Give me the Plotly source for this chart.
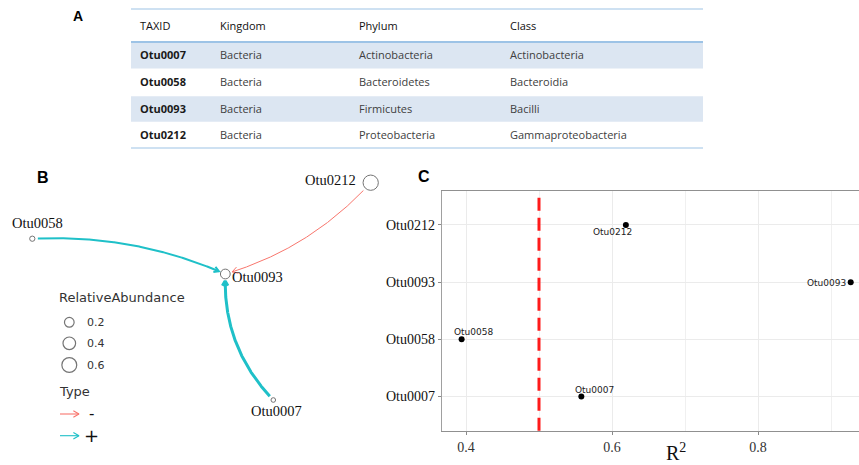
import numpy as np
import plotly.graph_objects as go

W, H = 859, 465

# ---- taxonomy table -------------------------------------------------------
table_header = ["TAXID", "Kingdom", "Phylum", "Class"]
taxid = ["Otu0007", "Otu0058", "Otu0093", "Otu0212"]
kingdom = ["Bacteria", "Bacteria", "Bacteria", "Bacteria"]
phylum = ["Actinobacteria", "Bacteroidetes", "Firmicutes", "Proteobacteria"]
klass = ["Actinobacteria", "Bacteroidia", "Bacilli", "Gammaproteobacteria"]

# ---- interaction network --------------------------------------------------
node_names = ["Otu0007", "Otu0058", "Otu0093", "Otu0212"]
node_x = [273.3, 32.3, 225.3, 370.7]      # layout coordinates
node_y = [400.0, 238.7, 274.0, 182.7]
rel_abundance = [0.01, 0.02, 0.18, 0.59]
abundance_breaks = [0.2, 0.4, 0.6]

edge_source = ["Otu0058", "Otu0212", "Otu0007"]
edge_target = ["Otu0093", "Otu0093", "Otu0093"]
edge_type = ["+", "-", "+"]
edge_weight = [0.50, 0.25, 0.75]

# ---- R^2 per OTU ----------------------------------------------------------
r2_otu = ["Otu0007", "Otu0058", "Otu0093", "Otu0212"]
r2_value = [0.558, 0.394, 0.927, 0.619]
r2_threshold = 0.5
r2_ticks = [0.4, 0.6, 0.8]
r2_minor = [0.5, 0.7, 0.9]

# ---- styling ---------------------------------------------------------------
SERIF = "Liberation Serif"
SANS = "DejaVu Sans"
TABLE_FONT = "Open Sans"
TYPE_COLOR = {"-": "#F8766D", "+": "#1FC0C8"}
EDGE_BEND = [0.059, 0.07, 0.107]          # arc bow, fraction of edge length
BAND = "#dce6f2"
RULE = "#9dc3e6"


def px_x(p):
    return p / W


def px_y(p):
    return 1 - p / H


def node_diameter(v):
    return 4 + 16 * np.sqrt(v)


def chevron(tip, direction, length=6.0, half_angle=np.radians(30)):
    """Open arrow head (two arms) ending at tip, pointing along direction."""
    u = direction / np.hypot(*direction)
    back = -u
    arms = []
    for a in (half_angle, -half_angle):
        c, s = np.cos(a), np.sin(a)
        r = np.array([c * back[0] - s * back[1], s * back[0] + c * back[1]])
        arms.append(tip + length * r)
    return np.array([arms[0], tip, arms[1]])


fig = go.Figure()
annotations = []
shapes = []

# =========================== A: table =======================================
HEAD_H, ROW_H = 33.5, 26.6
TABLE_W = 572
TABLE_H = HEAD_H + ROW_H * len(taxid)
col_x = [8, 88.3, 227.3, 378]

for i in range(len(taxid)):
    if i % 2 == 0:
        shapes.append(dict(type="rect", xref="x3", yref="y3", x0=0, x1=TABLE_W,
                           y0=HEAD_H + i * ROW_H + 1, y1=HEAD_H + (i + 1) * ROW_H,
                           fillcolor=BAND, line=dict(width=0), layer="below"))
for yl in [0, HEAD_H, TABLE_H]:
    shapes.append(dict(type="line", xref="x3", yref="y3", x0=0, x1=TABLE_W,
                       y0=yl, y1=yl, line=dict(color=RULE, width=2)))

for c, name in enumerate(table_header):
    annotations.append(dict(xref="x3", yref="y3", x=col_x[c], y=HEAD_H / 2 + 0.5,
                            text=name, showarrow=False, xanchor="left", yanchor="middle",
                            borderpad=0, font=dict(family=TABLE_FONT, size=11, color="#111")))
columns = [taxid, kingdom, phylum, klass]
for c, col in enumerate(columns):
    for i, val in enumerate(col):
        txt = f"<b>{val}</b>" if c == 0 else val
        annotations.append(dict(xref="x3", yref="y3", x=col_x[c],
                                y=HEAD_H + (i + 0.5) * ROW_H - 0.5,
                                text=txt, showarrow=False, xanchor="left", yanchor="middle",
                                borderpad=0,
                                font=dict(family=TABLE_FONT, size=11,
                                          color="#1a1a1a" if c == 0 else "#404040")))

# =========================== B: network =====================================
pos = {n: np.array([x, y]) for n, x, y in zip(node_names, node_x, node_y)}
rad = {n: node_diameter(v) / 2 for n, v in zip(node_names, rel_abundance)}

for k, (s, t, typ, w) in enumerate(zip(edge_source, edge_target, edge_type, edge_weight)):
    p0, p2 = pos[s], pos[t]
    d = p2 - p0
    L = np.hypot(*d)
    n = np.array([d[1], -d[0]]) / L
    ctrl = (p0 + p2) / 2 + 2 * EDGE_BEND[k] * L * n
    tt = np.linspace(0, 1, 400)
    pts = ((1 - tt) ** 2)[:, None] * p0 + (2 * (1 - tt) * tt)[:, None] * ctrl + (tt ** 2)[:, None] * p2
    keep = (np.hypot(*(pts - p0).T) > rad[s] + 2.2) & (np.hypot(*(pts - p2).T) > rad[t] + 1.5)
    pts = pts[keep]
    lw = 4 * w
    col = TYPE_COLOR[typ]
    fig.add_trace(go.Scatter(x=pts[:, 0], y=pts[:, 1], mode="lines", xaxis="x2", yaxis="y2",
                             line=dict(color=col, width=lw), hoverinfo="skip"))
    head = chevron(pts[-1], pts[-1] - pts[-6], length=6.5 if lw < 1.5 else 5.5)
    fig.add_trace(go.Scatter(x=head[:, 0], y=head[:, 1], mode="lines", xaxis="x2", yaxis="y2",
                             line=dict(color=col, width=lw), hoverinfo="skip"))

fig.add_trace(go.Scatter(x=node_x, y=node_y, mode="markers", xaxis="x2", yaxis="y2",
                         marker=dict(size=[node_diameter(v) - 1 for v in rel_abundance],
                                     color="rgba(255,255,255,0)",
                                     line=dict(color="#3a3a3a", width=1)),
                         hoverinfo="skip"))

label_offsets = {  # (xshift, yshift, xanchor)
    "Otu0058": (5, 15.7, "center"),
    "Otu0212": (-14, 2.7, "right"),
    "Otu0093": (6, -3.3, "left"),
    "Otu0007": (3, -10.7, "center"),
}
for n, x, y in zip(node_names, node_x, node_y):
    dx, dy, anc = label_offsets[n]
    annotations.append(dict(xref="x2", yref="y2", x=x, y=y, xshift=dx, yshift=dy,
                            text=n, showarrow=False, xanchor=anc, yanchor="middle",
                            borderpad=0, font=dict(family=SERIF, size=14.5, color="#111")))

# legend: relative abundance
LEG_X = 69.3
leg_y = [322.3, 343.3, 365.0]
annotations.append(dict(xref="x2", yref="y2", x=57.5, y=297.3, text="RelativeAbundance",
                        showarrow=False, xanchor="left", yanchor="middle", borderpad=0,
                        font=dict(family=SANS, size=13, color="#333")))
fig.add_trace(go.Scatter(x=[LEG_X] * len(abundance_breaks), y=leg_y, mode="markers",
                         xaxis="x2", yaxis="y2",
                         marker=dict(size=[node_diameter(v) - 1.5 for v in abundance_breaks],
                                     color="rgba(255,255,255,0)",
                                     line=dict(color="#3a3a3a", width=1.2)),
                         hoverinfo="skip"))
for v, yy in zip(abundance_breaks, leg_y):
    annotations.append(dict(xref="x2", yref="y2", x=86, y=yy, text=f"{v:.1f}",
                            showarrow=False, xanchor="left", yanchor="middle", borderpad=0,
                            font=dict(family=SANS, size=11, color="#333")))

# legend: edge type
annotations.append(dict(xref="x2", yref="y2", x=57.5, y=391, text="Type",
                        showarrow=False, xanchor="left", yanchor="middle", borderpad=0,
                        font=dict(family=SANS, size=13, color="#333")))
for typ, yy, fs in [("-", 414.0, 15), ("+", 435.7, 18)]:
    col = TYPE_COLOR[typ]
    tail, tip = np.array([60.0, yy]), np.array([79.0, yy])
    fig.add_trace(go.Scatter(x=[tail[0], tip[0]], y=[yy, yy], mode="lines", xaxis="x2", yaxis="y2",
                             line=dict(color=col, width=1.1), hoverinfo="skip"))
    head = chevron(tip, tip - tail, length=6.5)
    fig.add_trace(go.Scatter(x=head[:, 0], y=head[:, 1], mode="lines", xaxis="x2", yaxis="y2",
                             line=dict(color=col, width=1.1), hoverinfo="skip"))
    annotations.append(dict(xref="x2", yref="y2", x=91, y=yy, text=typ, showarrow=False,
                            xanchor="center", yanchor="middle", borderpad=0,
                            font=dict(family=SANS, size=fs, color="#111")))

# =========================== C: R^2 dot plot ================================
fig.add_trace(go.Scatter(x=r2_value, y=r2_otu, mode="markers", xaxis="x", yaxis="y",
                         marker=dict(size=6, color="#000"), hoverinfo="skip"))
shapes.append(dict(type="line", xref="x", yref="y domain", x0=r2_threshold, x1=r2_threshold,
                   y0=0.0, y1=0.98, line=dict(color="#ff1a1a", width=3, dash="13px,7px")))

pt_label = {  # (xshift, yshift, xanchor)
    "Otu0007": (12.7, 6.7, "center"),
    "Otu0058": (11.7, 7.7, "center"),
    "Otu0093": (-4, -1, "right"),
    "Otu0212": (-13, -7.4, "center"),
}
for n, v in zip(r2_otu, r2_value):
    dx, dy, anc = pt_label[n]
    annotations.append(dict(xref="x", yref="y", x=v, y=n, xshift=dx, yshift=dy, text=n,
                            showarrow=False, xanchor=anc, yanchor="middle", borderpad=0,
                            font=dict(family=SANS, size=9, color="#222")))

annotations.append(dict(xref="paper", yref="paper", x=px_x(676), y=px_y(465),
                        text="R<sup>2</sup>", showarrow=False, xanchor="center", yanchor="bottom",
                        borderpad=0, font=dict(family=SERIF, size=20, color="#111")))

# panel letters
for letter, lx, ly, fs in [("A", 78.3, 16, 14), ("B", 42.7, 177.3, 16), ("C", 424.3, 176.7, 16)]:
    annotations.append(dict(xref="paper", yref="paper", x=px_x(lx), y=px_y(ly), text=f"<b>{letter}</b>",
                            showarrow=False, xanchor="center", yanchor="middle", borderpad=0,
                            font=dict(family="Liberation Sans", size=fs, color="#000")))

x_left = 0.4 - (466 - 441.7) / 730
x_right = 0.4 + (W - 466) / 730

fig.update_layout(
    width=W, height=H, autosize=False,
    margin=dict(l=0, r=0, t=0, b=0, pad=0),
    paper_bgcolor="white", plot_bgcolor="white",
    showlegend=False,
    xaxis=dict(domain=[px_x(441.7), 1], range=[x_left, x_right], tickvals=r2_ticks,
               ticks="outside", ticklen=3, tickcolor="#8a8a8a",
               showline=True, linecolor="#909090", linewidth=1.4, mirror=True,
               showgrid=True, gridcolor="#ebebeb", gridwidth=1.2, zeroline=False,
               minor=dict(tickvals=r2_minor, showgrid=True, gridcolor="#f0f0f0",
                          gridwidth=1.2, ticks=""),
               tickfont=dict(family=SERIF, size=14, color="#333")),
    yaxis=dict(domain=[px_y(430.7), px_y(190.7)], type="category",
               categoryorder="array", categoryarray=r2_otu, range=[-0.6, 3.6],
               ticks="outside", ticklen=3, tickcolor="#8a8a8a",
               showline=True, linecolor="#a0a0a0", linewidth=1,
               showgrid=True, gridcolor="#ebebeb", gridwidth=1.2, zeroline=False,
               tickfont=dict(family=SERIF, size=14, color="#111")),
    xaxis2=dict(domain=[0, px_x(400)], range=[0, 400], visible=False),
    yaxis2=dict(domain=[0, px_y(160)], range=[H, 160], visible=False),
    xaxis3=dict(domain=[px_x(131), px_x(131 + TABLE_W)], range=[0, TABLE_W], visible=False),
    yaxis3=dict(domain=[px_y(8.5 + TABLE_H), px_y(8.5)], range=[TABLE_H, 0], visible=False),
    annotations=annotations,
    shapes=shapes,
)

fig.write_html("out.html")
